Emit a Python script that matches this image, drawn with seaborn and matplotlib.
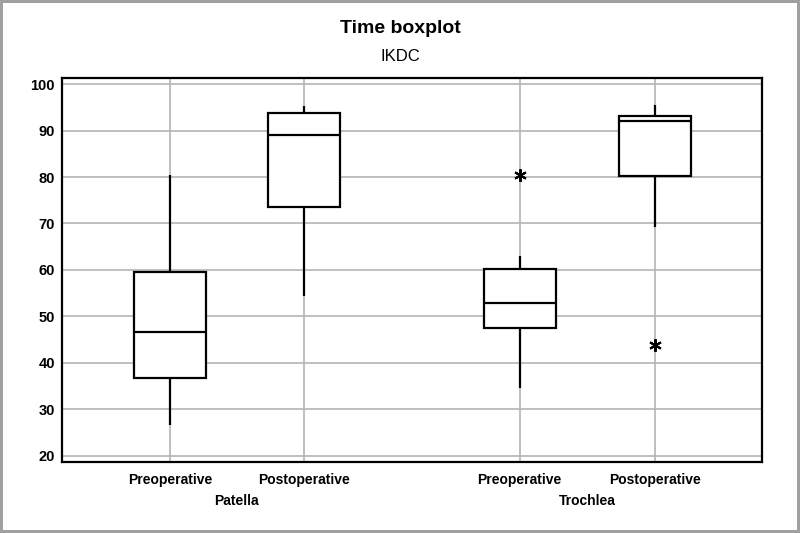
import matplotlib
matplotlib.use("Agg")
import matplotlib.pyplot as plt
import numpy as np
import pandas as pd
import seaborn as sns

# 값
groups = ["Patella", "Trochlea"]
times = ["Preoperative", "Postoperative"]
patella_pre = [26.7, 36.7, 46.6, 59.5, 80.4]
patella_post = [54.3, 73.5, 89.0, 93.8, 95.3]
trochlea_pre = [34.6, 45.0, 47.6, 50.0, 52.9, 58.0, 60.3, 63.1, 80.5]
trochlea_post = [43.8, 69.2, 80.3, 85.0, 92.0, 92.5, 93.2, 94.0, 95.5]
y_ticks = [20, 30, 40, 50, 60, 70, 80, 90, 100]

# 박스 위치 (레이아웃)
positions = [0.0, 1.0, 2.61, 3.62]

series = [patella_pre, patella_post, trochlea_pre, trochlea_post]
rows = []
for i, vals in enumerate(series):
    for v in vals:
        rows.append({"group": groups[i // 2], "time": times[i % 2],
                     "pos": positions[i], "IKDC": v})
df = pd.DataFrame(rows)

sns.set_style("white")
plt.rcParams["font.family"] = ["Liberation Sans", "DejaVu Sans"]
plt.rcParams["text.color"] = "black"
plt.rcParams["xtick.color"] = "black"
plt.rcParams["ytick.color"] = "black"

fig = plt.figure(figsize=(8, 5.33), dpi=100)
ax = fig.add_axes([0.0775, 0.1332, 0.875, 0.7205])

# 격자
for y in y_ticks:
    ax.axhline(y, color="#b4b4b4", lw=1.2, zorder=0)
for p in positions:
    ax.axvline(p, color="#b4b4b4", lw=1.2, zorder=0)

sns.boxplot(data=df, x="pos", y="IKDC", native_scale=True, ax=ax,
            color="white", linecolor="black", linewidth=1.6, width=0.537,
            showcaps=False, whis=1.5,
            flierprops={"marker": (6, 2, 0), "markersize": 9,
                        "markeredgewidth": 1.5,
                        "markerfacecolor": "black", "markeredgecolor": "black"})

ax.set_xlim(-0.806, 4.42)
ax.set_ylim(18.7, 101.3)
ax.set_yticks(y_ticks)
ax.set_yticklabels([str(t) for t in y_ticks], fontsize=10.5, fontweight="bold")
ax.set_xticks(positions)
ax.set_xticklabels(times * 2, fontsize=10, fontweight="bold")
ax.set_xlabel("")
ax.set_ylabel("")
ax.tick_params(axis="both", direction="out", length=4, width=1.3, color="black")
ax.tick_params(axis="y", pad=1)
ax.tick_params(axis="x", pad=4)

for s in ax.spines.values():
    s.set_visible(True)
    s.set_color("black")
    s.set_linewidth(1.6)

# 그룹 이름
for g in range(2):
    cx = (positions[2 * g] + positions[2 * g + 1]) / 2
    ax.text(cx, -0.102, groups[g], transform=ax.get_xaxis_transform(),
            ha="center", va="center", fontsize=10, fontweight="bold")

fig.text(0.5, 0.938, "Time boxplot", ha="center", va="baseline",
         fontsize=14, fontweight="bold")
fig.text(0.5, 0.8856, "IKDC", ha="center", va="baseline", fontsize=12)

fig.patch.set_edgecolor("#a0a0a0")
fig.patch.set_linewidth(3)

fig.savefig("out.png", dpi=100)
